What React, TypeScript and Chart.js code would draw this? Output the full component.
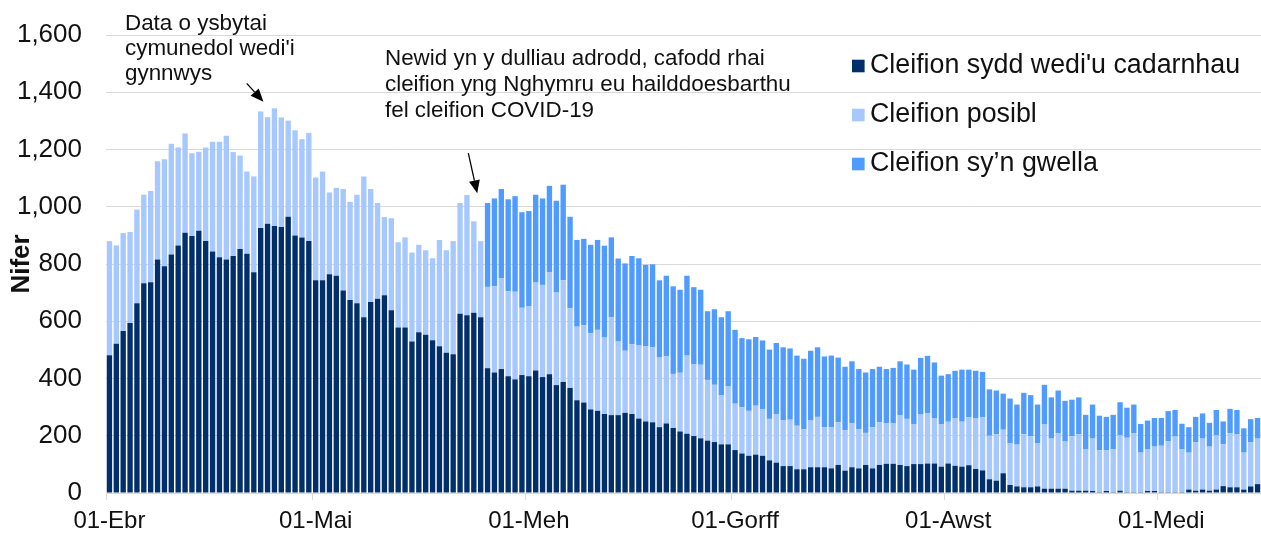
import React, { useEffect, useRef } from 'react';
import { Chart, registerables } from 'chart.js';

Chart.register(...registerables);

// ---------- data ----------
const monthNames = ['Ebr', 'Mai', 'Meh', 'Gorff', 'Awst', 'Medi'];
const monthDays = [30, 31, 30, 31, 31, 15];

const categories: string[] = [];
monthNames.forEach((m, i) => {
  for (let d = 1; d <= monthDays[i]; d++) categories.push(`${String(d).padStart(2, '0')}-${m}`);
});

const confirmed = [
  481, 521, 566, 594, 663, 733, 736, 816, 792, 833, 865, 909, 898, 916, 880, 844, 824, 816, 828, 852,
  836, 771, 926, 941, 933, 929, 965, 900, 893, 880,
  743, 743, 764, 759, 707, 674, 663, 614, 667, 679, 691, 638, 578, 578, 529, 562, 553, 534, 513, 490,
  485, 626, 621, 630, 614, 436, 421, 433, 408, 397, 412,
  408, 428, 405, 415, 377, 388, 367, 324, 316, 292, 287, 276, 272, 272, 280, 276, 260, 250, 247, 230,
  243, 227, 215, 207, 199, 191, 183, 178, 170, 170,
  150, 138, 130, 134, 130, 114, 106, 94, 94, 83, 83, 90, 90, 90, 86, 98, 78, 90, 86, 98,
  86, 98, 102, 102, 98, 94, 101, 101, 103, 103, 92,
  103, 95, 92, 97, 84, 79, 48, 43, 69, 28, 23, 20, 20, 23, 15, 15, 15, 15, 8, 8,
  8, 7, 3, 7, 3, 8, 3, 3, 3, 7, 7,
  3, 3, 3, 3, 12, 8, 12, 8, 12, 24, 20, 20, 12, 23, 31,
];

const possible = [
  399, 344, 342, 318, 327, 309, 319, 343, 374, 387, 342, 347, 289, 276, 327, 383, 403, 432, 363, 327,
  287, 335, 407, 372, 411, 383, 336, 367, 343, 378,
  359, 380, 286, 307, 355, 343, 379, 492, 395, 334, 273, 322, 298, 315, 311, 305, 295, 286, 371, 358,
  395, 387, 420, 319, 266, 284, 301, 318, 297, 306, 235,
  245, 307, 322, 357, 323, 355, 278, 257, 270, 266, 283, 269, 342, 257, 217, 244, 255, 263, 262, 243,
  234, 189, 205, 273, 250, 257, 212, 200, 171, 202,
  162, 162, 157, 171, 162, 145, 170, 161, 162, 152, 140, 165, 176, 140, 144, 149, 141, 153, 137, 112,
  144, 149, 141, 141, 173, 165, 140, 173, 175, 159, 149,
  146, 167, 157, 168, 178, 186, 152, 162, 152, 145, 146, 185, 178, 150, 226, 175, 193, 165, 190, 197,
  144, 183, 146, 143, 150, 193, 190, 205, 138, 145, 155,
  162, 178, 194, 150, 129, 170, 178, 154, 189, 146, 189, 186, 129, 155, 159,
];

const recovering: (number | null)[] = [
  null, null, null, null, null, null, null, null, null, null, null, null, null, null, null, null, null, null, null, null,
  null, null, null, null, null, null, null, null, null, null,
  null, null, null, null, null, null, null, null, null, null, null, null, null, null, null, null, null, null, null, null,
  null, null, null, null, null, 293, 307, 311, 321, 334, 334,
  332, 307, 302, 301, 321, 334, 320, 303, 302, 309, 314, 319, 279, 290, 305, 308, 305, 284, 290, 270,
  282, 306, 290, 279, 270, 262, 240, 264, 273, 263,
  258, 241, 250, 240, 241, 242, 248, 254, 249, 245, 246, 242, 243, 247, 250, 226, 222, 217, 210, 211,
  203, 194, 190, 194, 189, 190, 190, 198, 201, 194, 169,
  166, 165, 182, 166, 165, 158, 162, 153, 126, 157, 140, 145, 144, 136, 137, 144, 150, 142, 128, 129,
  121, 119, 121, 116, 120, 116, 105, 101, 100, 101, 100,
  97, 105, 93, 89, 89, 88, 88, 83, 89, 80, 85, 84, 85, 80, 72,
];

const seriesLabels = ["Cleifion sydd wedi'u cadarnhau", 'Cleifion posibl', 'Cleifion sy\u2019n gwella'];
const seriesColors = ['#002f6c', '#a6c8ff', '#4f9bff'];

const yMin = 0;
const yMax = 1600;
const yStep = 200;
const yTitle = 'Nifer';

const notes = [
  { lines: ['Data o ysbytai', "cymunedol wedi'i", 'gynnwys'], x: 125, y: 30, lh: 25 },
  {
    lines: ['Newid yn y dulliau adrodd, cafodd rhai', 'cleifion yng Nghymru eu hailddoesbarthu', 'fel cleifion COVID-19'],
    x: 385,
    y: 65,
    lh: 26,
  },
];

// arrows in data space: [category index, value] -> [category index, value]
const arrows = [
  { from: [19.97, 1431], to: [22.4, 1367] },
  { from: [52.2, 1187], to: [53.5, 1047] },
];

const FONT = '"Liberation Sans", Arial, Helvetica, sans-serif';
const TEXT = '#111111';

const overlayPlugin = {
  id: 'overlay',
  afterDraw(chart: any) {
    const ctx = chart.ctx as CanvasRenderingContext2D;
    const xs = chart.scales.x;
    const ys = chart.scales.y;
    ctx.save();
    // annotations
    ctx.font = `22.4px ${FONT}`;
    ctx.fillStyle = TEXT;
    ctx.textAlign = 'left';
    ctx.textBaseline = 'alphabetic';
    notes.forEach((n) => n.lines.forEach((l, i) => ctx.fillText(l, n.x, n.y + i * n.lh)));
    // arrows
    ctx.strokeStyle = '#000';
    ctx.fillStyle = '#000';
    ctx.lineWidth = 1.3;
    arrows.forEach((a) => {
      const x1 = xs.getPixelForValue(a.from[0]);
      const y1 = ys.getPixelForValue(a.from[1]);
      const x2 = xs.getPixelForValue(a.to[0]);
      const y2 = ys.getPixelForValue(a.to[1]);
      const ang = Math.atan2(y2 - y1, x2 - x1);
      const hl = 13;
      const hw = 5.5;
      const bx = x2 - hl * Math.cos(ang);
      const by = y2 - hl * Math.sin(ang);
      ctx.beginPath();
      ctx.moveTo(x1, y1);
      ctx.lineTo(bx, by);
      ctx.stroke();
      ctx.beginPath();
      ctx.moveTo(x2, y2);
      ctx.lineTo(bx + hw * Math.sin(ang), by - hw * Math.cos(ang));
      ctx.lineTo(bx - hw * Math.sin(ang), by + hw * Math.cos(ang));
      ctx.closePath();
      ctx.fill();
    });
    // legend
    ctx.font = `26.8px ${FONT}`;
    ctx.textBaseline = 'middle';
    chart.data.datasets.forEach((ds: any, i: number) => {
      const cy = 66 + i * 49;
      ctx.fillStyle = ds.backgroundColor;
      ctx.fillRect(852, cy - 6.3, 12.6, 12.6);
      ctx.fillStyle = TEXT;
      ctx.fillText(ds.label, 870, cy);
    });
    ctx.restore();
  },
};

export default function App() {
  const ref = useRef<HTMLCanvasElement>(null);
  useEffect(() => {
    if (!ref.current) return;
    const datasets = [confirmed, possible, recovering].map((d, i) => ({
      label: seriesLabels[i],
      data: d,
      backgroundColor: seriesColors[i],
      borderWidth: 0,
      barPercentage: 0.78,
      categoryPercentage: 1.0,
      stack: 's',
    }));
    const chart = new Chart(ref.current, {
      type: 'bar',
      data: { labels: categories, datasets },
      options: {
        animation: false,
        responsive: false,
        devicePixelRatio: 1,
        events: [],
        layout: { padding: { left: 2, right: 0, top: 35, bottom: 0 } },
        plugins: {
          legend: { display: false },
          tooltip: { enabled: false },
          title: { display: false },
        },
        scales: {
          x: {
            stacked: true,
            offset: true,
            afterFit: (s: any) => {
              s.height = 40;
            },
            grid: {
              offset: true,
              drawOnChartArea: false,
              drawTicks: true,
              tickLength: 7,
              color: (c: any) => (c.tick && c.tick.label ? '#d9d9d9' : 'rgba(0,0,0,0)'),
            },
            border: { display: true, color: '#d9d9d9' },
            ticks: {
              autoSkip: false,
              maxRotation: 0,
              minRotation: 0,
              padding: 3,
              color: TEXT,
              font: { family: FONT, size: 24, lineHeight: 1.533 },
              callback: (_v: any, i: number) => (categories[i].startsWith('01-') ? categories[i] : ''),
            },
          },
          y: {
            stacked: true,
            min: yMin,
            max: yMax,
            afterFit: (s: any) => {
              s.width = 104;
            },
            grid: { color: '#d9d9d9', drawTicks: false, lineWidth: 1 },
            border: { display: false },
            ticks: {
              stepSize: yStep,
              padding: 24,
              color: TEXT,
              font: { family: FONT, size: 26, lineHeight: 0.8 },
              callback: (v: any) => Number(v).toLocaleString('en-US'),
            },
            title: {
              display: true,
              text: yTitle,
              color: TEXT,
              font: { family: FONT, size: 26, weight: 'bold' },
            },
          },
        },
      },
      plugins: [overlayPlugin],
    } as any);
    return () => chart.destroy();
  }, []);
  return (
    <div style={{ position: 'fixed', left: 0, top: 0, width: 1261, height: 533, background: '#fff' }}>
      <canvas ref={ref} width={1261} height={533} style={{ display: 'block', width: 1261, height: 533 }} />
    </div>
  );
}
